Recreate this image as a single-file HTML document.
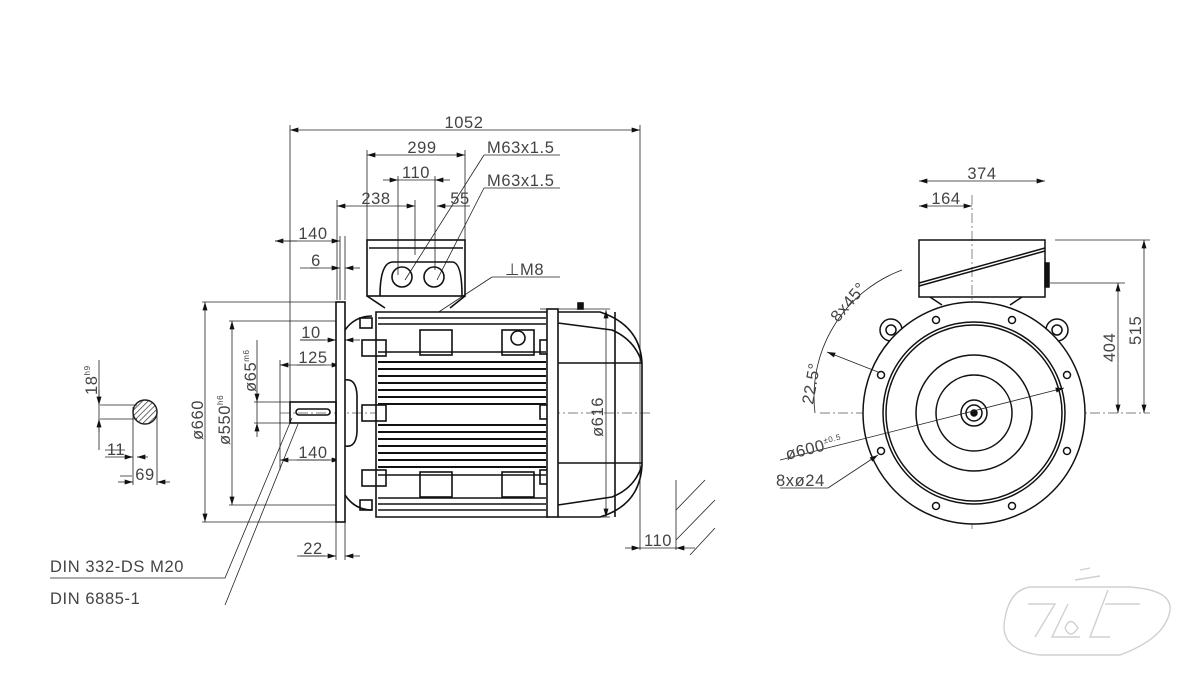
<!DOCTYPE html>
<html><head><meta charset="utf-8"><style>
html,body{margin:0;padding:0;background:#fff}
svg{display:block}
text{font-family:"Liberation Sans",sans-serif;fill:#444;font-size:16.5px;letter-spacing:0.6px}
</style></head><body>
<svg width="1200" height="680" viewBox="0 0 1200 680" xmlns="http://www.w3.org/2000/svg">
<defs>
<marker id="a" viewBox="0 0 10 6" refX="10" refY="3" markerWidth="9" markerHeight="5" orient="auto-start-reverse" markerUnits="userSpaceOnUse"><path d="M0,0 L10,3 L0,6z" fill="#111"/></marker>
<pattern id="h" width="4" height="4" patternUnits="userSpaceOnUse" patternTransform="rotate(45)"><line x1="0" y1="0" x2="0" y2="4" stroke="#222" stroke-width="1.3"/></pattern>
</defs>
<g stroke="#222" stroke-width="0.8" fill="none">
<path d="M290 125V420 M640 125V550 M367 150V240 M465 150V240 M337 200V300 M398 176V275 M435 176V270 M415 200V255 M345 236V300 M340 236V300 M280 360V470 M202 302H336 M229 321H336 M254 402H290 M254 423H290 M345 522V560 M336 522V560 M202 522H336 M229 505H336 M676 480V550 M540 309H610 M540 517H610"/>
<g marker-start="url(#a)" marker-end="url(#a)">
<line x1="290" y1="130" x2="640" y2="130"/>
<line x1="367" y1="155" x2="465" y2="155"/>
<line x1="205" y1="302" x2="205" y2="522"/>
<line x1="232" y1="321" x2="232" y2="505"/>
<line x1="606" y1="310" x2="606" y2="517"/>
<line x1="919" y1="181" x2="1045" y2="181"/>
<line x1="919" y1="206" x2="972" y2="206"/>
<line x1="1118" y1="283" x2="1118" y2="413"/>
<line x1="1144" y1="240" x2="1144" y2="413"/>
</g>
<line x1="383" y1="180" x2="398" y2="180" marker-end="url(#a)"/><line x1="450" y1="180" x2="435" y2="180" marker-end="url(#a)"/><line x1="398" y1="180" x2="435" y2="180"/>
<line x1="337" y1="206" x2="415" y2="206" marker-start="url(#a)" marker-end="url(#a)"/>
<line x1="470" y1="206" x2="437" y2="206" marker-end="url(#a)"/>
<line x1="275" y1="241" x2="340" y2="241" marker-start="url(#a)" marker-end="url(#a)"/>
<line x1="310" y1="268" x2="340" y2="268" marker-end="url(#a)"/><line x1="360" y1="268" x2="345" y2="268" marker-end="url(#a)"/>
<line x1="300" y1="340" x2="336" y2="340" marker-end="url(#a)"/><line x1="360" y1="340" x2="345" y2="340" marker-end="url(#a)"/>
<line x1="280" y1="365" x2="340" y2="365" marker-start="url(#a)" marker-end="url(#a)"/>
<line x1="280" y1="460" x2="340" y2="460" marker-start="url(#a)" marker-end="url(#a)"/>
<line x1="257" y1="340" x2="257" y2="402" marker-end="url(#a)"/><line x1="257" y1="437" x2="257" y2="423" marker-end="url(#a)"/><line x1="257" y1="402" x2="257" y2="423"/>
<line x1="300" y1="556" x2="336" y2="556" marker-end="url(#a)"/><line x1="360" y1="556" x2="345" y2="556" marker-end="url(#a)"/>
<line x1="625" y1="548" x2="640" y2="548" marker-end="url(#a)"/><line x1="695" y1="548" x2="676" y2="548" marker-end="url(#a)"/><line x1="640" y1="548" x2="676" y2="548"/>
<path d="M297 241H275 M300 268H318 M300 340H325 M297 365H325 M297 460H330 M297 556H325 M484 155H560 M484 188H560 M492 277H560 M50 578H225 L292 418 M225 605L298 424 M405 280L484 155 M437 280L484 188 M396 340L492 277"/>
<path d="M676 510L705 480 M676 540L715 500 M690 555L715 528"/>
<circle cx="145" cy="412" r="12" fill="url(#h)" stroke-width="1.5"/>
<path d="M100 405H137 M100 419H137 M133 407V485 M157 412V485 M99 360V450"/>
<line x1="105" y1="457" x2="133" y2="457" marker-end="url(#a)"/><line x1="148" y1="457" x2="137" y2="457" marker-end="url(#a)"/><line x1="118" y1="482" x2="133" y2="482" marker-end="url(#a)"/><line x1="170" y1="482" x2="157" y2="482" marker-end="url(#a)"/>
<line x1="99" y1="390" x2="99" y2="405" marker-end="url(#a)"/><line x1="99" y1="432" x2="99" y2="419" marker-end="url(#a)"/>
<path d="M105 450H125 M120 476H132"/>
</g>
<g stroke="#555" stroke-width="0.7" stroke-dasharray="10 3 2 3" fill="none">
<line x1="280" y1="413" x2="650" y2="413"/>
<line x1="820" y1="413" x2="1150" y2="413"/>
<line x1="972" y1="195" x2="972" y2="530"/>
<circle cx="974" cy="413" r="100"/>
</g>
<g stroke="#111" fill="none" stroke-width="1.6">
<rect x="336" y="302" width="9" height="220" fill="#fff"/>
<rect x="290" y="402" width="46" height="21"/>
<rect x="296" y="409" width="34" height="6" rx="3"/>
<path d="M345 380Q356 378 357 395V432Q356 448 345 446"/>
<path d="M345 330Q355 316 372 316 M345 495Q355 510 372 510"/>
<rect x="367" y="240" width="98" height="56"/>
<path d="M369 248H463 M380 296Q380 262 393 262H452Q462 262 462 296"/>
<circle cx="402" cy="277" r="10"/><circle cx="434" cy="277" r="10"/>
<path d="M367 296L385 308 M465 296L450 308"/>
<path d="M376 312H548V517H376z" fill="#fff"/>
<path d="M378 318H546 M378 324H546 M378 498H546 M378 504H546 M378 510H546"/>
<rect x="420" y="330" width="32" height="25"/><rect x="502" y="330" width="32" height="25"/>
<rect x="420" y="472" width="32" height="25"/><rect x="502" y="472" width="32" height="25"/>
<path d="M378 352H546 M378 475H546"/>
<circle cx="518" cy="338" r="7"/>
<rect x="362" y="340" width="24" height="16"/><rect x="362" y="405" width="24" height="16"/><rect x="362" y="470" width="24" height="16"/>
<rect x="360" y="318" width="12" height="10"/><rect x="360" y="500" width="12" height="10"/>
<rect x="540" y="340" width="8" height="14"/><rect x="540" y="405" width="8" height="14"/><rect x="540" y="470" width="8" height="14"/>
<rect x="547" y="309" width="11" height="208" fill="#fff"/>
<path d="M558 312H600Q640 325 642 363V465Q640 505 600 517H558 M558 323L612 330Q635 340 642 363 M558 505L612 497Q635 488 642 465 M558 363H642 M558 463H642 M615 312V517"/>
<rect x="578" y="303" width="5" height="6" fill="#111"/>
</g>
<g stroke="#111" stroke-width="2">
<path d="M378 362H546 M378 369H546 M378 376H546 M378 383H546 M378 390H546 M378 397H546 M378 404H546 M378 425H546 M378 432H546 M378 439H546 M378 446H546 M378 453H546 M378 460H546 M378 467H546"/>
</g>
<g stroke="#111" fill="none" stroke-width="1.5">
<rect x="919" y="240" width="126" height="57"/>
<path d="M919 283L1045 248 M919 286L1045 251"/>
<rect x="1045" y="263" width="4" height="24" fill="#111"/>
<path d="M930 297L942 305 M1022 297L1010 305"/>
<circle cx="891" cy="330" r="11"/><circle cx="891" cy="330" r="5"/>
<circle cx="1057" cy="330" r="11"/><circle cx="1057" cy="330" r="5"/>
<circle cx="974" cy="413" r="111" fill="#fff"/>
<circle cx="974" cy="413" r="91"/><circle cx="974" cy="413" r="88"/>
<circle cx="974" cy="413" r="58"/><circle cx="974" cy="413" r="38"/>
<circle cx="974" cy="413" r="13"/><circle cx="974" cy="413" r="8"/><circle cx="974" cy="413" r="3" fill="#111"/>
</g>
<g stroke="#111" fill="#fff" stroke-width="1.5">
<circle cx="936" cy="320" r="3.5"/><circle cx="1012" cy="320" r="3.5"/>
<circle cx="1067" cy="375" r="3.5"/><circle cx="1067" cy="451" r="3.5"/>
<circle cx="1012" cy="506" r="3.5"/><circle cx="936" cy="506" r="3.5"/>
<circle cx="881" cy="451" r="3.5"/><circle cx="881" cy="375" r="3.5"/>
</g>
<g stroke="#222" stroke-width="0.8" fill="none">
<path d="M902 270A135 135 0 0 0 815 413"/>
<path d="M1055 240H1150 M1050 283H1125"/>
<line x1="878" y1="372" x2="827" y2="352" marker-end="url(#a)"/>
<line x1="780" y1="460" x2="1064" y2="388" marker-end="url(#a)"/>
<line x1="780" y1="488" x2="828" y2="488"/><line x1="828" y1="488" x2="878" y2="455" marker-end="url(#a)"/>
</g>
<g stroke="#d0d0d0" stroke-width="1.4" fill="none">
<path d="M1030 587H1130Q1172 590 1170 610Q1166 638 1120 655H1040Q998 650 1005 618Q1010 590 1030 587Z"/>
<path d="M1028 604H1055L1035 637 M1068 604L1052 637H1080 M1065 628Q1070 615 1078 628Q1070 640 1065 628 M1108 590L1090 637H1110 M1105 604H1140 M1080 570L1090 568 M1075 580L1100 576"/>
</g>
<text x="464" y="128" text-anchor="middle">1052</text>
<text x="422" y="153" text-anchor="middle">299</text>
<text x="487" y="153">M63x1.5</text>
<text x="416" y="178" text-anchor="middle">110</text>
<text x="487" y="186">M63x1.5</text>
<text x="376" y="204" text-anchor="middle">238</text>
<text x="460" y="204" text-anchor="middle">55</text>
<text x="313" y="239" text-anchor="middle">140</text>
<text x="316" y="266" text-anchor="middle">6</text>
<text x="505" y="275">⊥M8</text>
<text x="311" y="338" text-anchor="middle">10</text>
<text x="313" y="363" text-anchor="middle">125</text>
<text x="313" y="458" text-anchor="middle">140</text>
<text x="313" y="554" text-anchor="middle">22</text>
<text x="658" y="546" text-anchor="middle">110</text>
<text x="116" y="455" text-anchor="middle">11</text>
<text x="145" y="480" text-anchor="middle">69</text>
<text transform="translate(97,395) rotate(-90)">18<tspan font-size="8" dy="-7">h9</tspan></text>
<text transform="translate(203,440) rotate(-90)">ø660</text>
<text transform="translate(230,445) rotate(-90)">ø550<tspan font-size="8" dy="-7">h6</tspan></text>
<text transform="translate(256,392) rotate(-90)">ø65<tspan font-size="8" dy="-7">m6</tspan></text>
<text transform="translate(603,437) rotate(-90)">ø616</text>
<text x="50" y="572" letter-spacing="1.5" font-size="15">DIN 332-DS M20</text>
<text x="50" y="604" letter-spacing="1.5" font-size="15">DIN 6885-1</text>
<text x="982" y="179" text-anchor="middle">374</text>
<text x="946" y="204" text-anchor="middle">164</text>
<text transform="translate(1115,362) rotate(-90)">404</text>
<text transform="translate(1141,345) rotate(-90)">515</text>
<text transform="translate(838,323) rotate(-50)">8x45°</text>
<text transform="translate(813,405) rotate(-80)">22.5°</text>
<text transform="translate(787,460) rotate(-14)">ø600<tspan font-size="8" dy="-7">±0.5</tspan></text>
<text x="776" y="486">8xø24</text>
</svg>
</body></html>
